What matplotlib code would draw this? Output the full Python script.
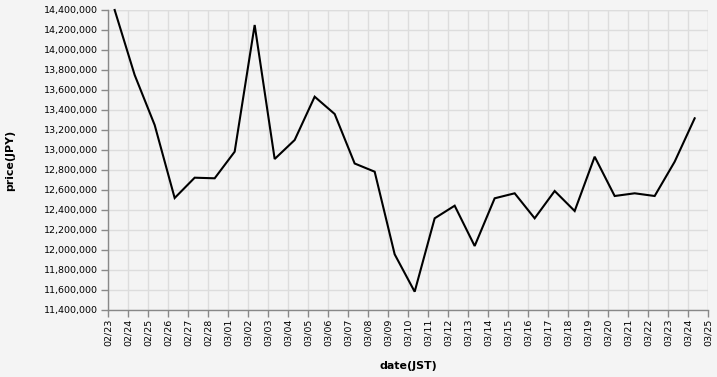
import matplotlib
matplotlib.use("Agg")
import matplotlib.pyplot as plt
import matplotlib.dates as mdates
import numpy as np
import pandas as pd
from matplotlib.ticker import FuncFormatter, MultipleLocator

dates = pd.date_range("2023-02-23 08:00", "2023-03-24 08:00", freq="D")
prices = [14400000, 13750000, 13250000, 12520000, 12723000, 12717000, 12983000,
          14250000, 12910000, 13100000, 13533000, 13360000, 12865000, 12783000,
          11957000, 11583000, 12317000, 12443000, 12040000, 12517000, 12567000,
          12317000, 12590000, 12390000, 12933000, 12540000, 12567000, 12540000,
          12883000, 13317000]

bg = "#f4f4f4"
fig = plt.figure(figsize=(7.17, 3.77), dpi=100, facecolor=bg)
ax = fig.add_axes([108/717, 1-310/377, 600/717, 300/377], facecolor=bg)

ax.plot(dates, prices, color="black", lw=1.5, solid_joinstyle="miter", clip_on=False)

ax.set_xlim(pd.Timestamp("2023-02-23"), pd.Timestamp("2023-03-25"))
ax.set_ylim(11400000, 14400000)
ax.yaxis.set_major_locator(MultipleLocator(200000))
ax.yaxis.set_major_formatter(FuncFormatter(lambda v, p: f"{int(round(v)):,}"))
ax.xaxis.set_major_locator(mdates.DayLocator())
ax.xaxis.set_major_formatter(mdates.DateFormatter("%m/%d"))

ax.grid(True, color="#dddddd", lw=1)
ax.set_axisbelow(True)
for s in ["top", "right"]:
    ax.spines[s].set_visible(False)
for s in ["left", "bottom"]:
    ax.spines[s].set_color("#888888")
    ax.spines[s].set_linewidth(1)
ax.tick_params(axis="both", colors="#888888", labelcolor="black", labelsize=6.8, length=5, width=1)
ax.tick_params(axis="x", labelrotation=90, pad=1)
ax.tick_params(axis="y", pad=2)
ax.axhline(14400000, color="#dddddd", lw=1, zorder=0)
ax.axvline(pd.Timestamp("2023-03-25"), color="#dddddd", lw=1, zorder=0)

ax.set_ylabel("price(JPY)", fontsize=7.9, fontweight="bold", labelpad=0)
ax.set_xlabel("date(JST)", fontsize=7.9, fontweight="bold", labelpad=12)
ax.yaxis.set_label_coords(-0.155, 0.5)
ax.xaxis.set_label_coords(0.5, -0.17)

fig.savefig("out.png", dpi=100, facecolor=bg)
